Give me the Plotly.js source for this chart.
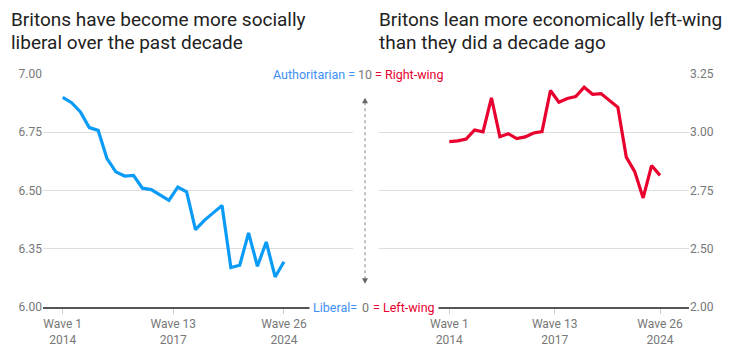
<!DOCTYPE html>
<html>
<head>
<meta charset="utf-8">
<script src="https://cdn.plot.ly/plotly-3.0.1.min.js"></script>
<style>html,body{margin:0;padding:0;background:#fff;}#chart{width:729px;height:349px;}</style>
</head>
<body>
<div id="chart"></div>
<script>
// Data
const waves = [1,2,3,4,5,6,7,8,9,10,11,12,13,14,15,16,17,18,19,20,21,22,23,24,25,26];
const socialValues = [6.90,6.877,6.837,6.77,6.758,6.637,6.58,6.562,6.565,6.51,6.504,6.479,6.458,6.515,6.494,6.332,6.372,6.404,6.436,6.169,6.179,6.318,6.175,6.279,6.129,6.194];
const economicValues = [2.96,2.963,2.971,3.010,3.002,3.148,2.981,2.994,2.973,2.980,2.997,3.003,3.179,3.129,3.145,3.153,3.193,3.163,3.166,3.136,3.107,2.893,2.831,2.718,2.857,2.815];
const xTickVals = [1,13.5,26];
const xTickText = ["Wave 1<br>2014","Wave 13<br>2017","Wave 26<br>2024"];
const leftTickVals = [6,6.25,6.5,6.75,7];
const leftTickText = ["6.00","6.35","6.50","6.75","7.00"];
const rightTickVals = [2.25,2.5,2.75,3,3.25];
const rightTickText = ["2.00","2.50","2.75","3.00","3.25"];

const BLUE = "#0a9bf7";
const RED = "#e8002e";
const LBLUE = "#3d8ff5";
const GREY = "#777";
const FONT = "Roboto, 'Liberation Sans', sans-serif";
const TSIZE = 19;

const traces = [
  {x: waves, y: socialValues, xaxis: "x", yaxis: "y", type: "scatter", mode: "lines",
   line: {color: BLUE, width: 3.2}, hoverinfo: "skip"},
  {x: waves, y: economicValues, xaxis: "x2", yaxis: "y2", type: "scatter", mode: "lines",
   line: {color: RED, width: 3.2}, hoverinfo: "skip"}
];

const xBase = {
  tickmode: "array", tickvals: xTickVals, ticktext: xTickText,
  ticks: "outside", ticklen: 5, tickcolor: "#ccc", tickwidth: 1,
  showline: true, linecolor: "#555", linewidth: 1.5,
  showgrid: false, zeroline: false,
  tickfont: {family: FONT, size: 12, color: GREY}
};
const yBase = {
  tickmode: "array", showgrid: true, gridcolor: "#dedede", gridwidth: 1,
  zeroline: false, showline: false, ticks: "",
  tickfont: {family: FONT, size: 12, color: GREY}
};

const px = v => (v - 43) / 646;
const py = v => (306.7 - v) / 233;
const MX = px(365);

const layout = {
  width: 729, height: 349,
  margin: {l: 43, r: 40, t: 73.7, b: 42.3},
  paper_bgcolor: "#fff", plot_bgcolor: "#fff",
  showlegend: false,
  font: {family: FONT},
  xaxis: Object.assign({}, xBase, {domain: [0, px(353)], range: [-1.23, 33.8], anchor: "y"}),
  xaxis2: Object.assign({}, xBase, {domain: [px(379), 1], range: [-7.34, 29.44], anchor: "y2"}),
  yaxis: Object.assign({}, yBase, {domain: [0, 1], range: [6, 7], tickvals: leftTickVals, ticktext: leftTickText, anchor: "x", side: "left"}),
  yaxis2: Object.assign({}, yBase, {domain: [0, 1], range: [2.25, 3.25], tickvals: rightTickVals, ticktext: rightTickText, anchor: "x2", side: "right"}),
  shapes: [
    {type: "line", xref: "paper", yref: "paper", x0: MX, x1: MX, y0: py(102), y1: py(279),
     line: {color: "#999", width: 1.2, dash: "dot"}},
    {type: "path", xref: "paper", yref: "paper",
     path: `M ${px(362)} ${py(103)} L ${px(368)} ${py(103)} L ${px(365)} ${py(97.5)} Z`,
     fillcolor: "#666", line: {width: 0}},
    {type: "path", xref: "paper", yref: "paper",
     path: `M ${px(362)} ${py(278)} L ${px(368)} ${py(278)} L ${px(365)} ${py(283.5)} Z`,
     fillcolor: "#666", line: {width: 0}}
  ],
  annotations: [
    // titles
    {xref: "paper", yref: "paper", x: px(9), y: py(19), xanchor: "left", yanchor: "middle", showarrow: false,
     text: "Britons have become more socially", font: {family: FONT, size: TSIZE, color: "#222"}},
    {xref: "paper", yref: "paper", x: px(9), y: py(42), xanchor: "left", yanchor: "middle", showarrow: false,
     text: "liberal over the past decade", font: {family: FONT, size: TSIZE, color: "#222"}},
    {xref: "paper", yref: "paper", x: px(377), y: py(19), xanchor: "left", yanchor: "middle", showarrow: false,
     text: "Britons lean more economically left-wing", font: {family: FONT, size: TSIZE, color: "#222"}},
    {xref: "paper", yref: "paper", x: px(377), y: py(42), xanchor: "left", yanchor: "middle", showarrow: false,
     text: "than they did a decade ago", font: {family: FONT, size: TSIZE, color: "#222"}},
    // top label
    {xref: "paper", yref: "paper", x: MX, y: py(73.7), xanchor: "right", yanchor: "middle", xshift: -7, showarrow: false,
     bgcolor: "#fff", borderpad: 2,
     text: "Authoritarian =", font: {family: FONT, size: 12.5, color: LBLUE}},
    {xref: "paper", yref: "paper", x: MX, y: py(73.7), xanchor: "center", yanchor: "middle", showarrow: false,
     bgcolor: "#fff", borderpad: 0,
     text: "10", font: {family: FONT, size: 12.5, color: GREY}},
    {xref: "paper", yref: "paper", x: MX, y: py(73.7), xanchor: "left", yanchor: "middle", xshift: 7, showarrow: false,
     bgcolor: "#fff", borderpad: 2,
     text: "= Right-wing", font: {family: FONT, size: 12.5, color: RED}},
    // bottom label
    {xref: "paper", yref: "paper", x: MX, y: py(306.7), xanchor: "right", yanchor: "middle", xshift: -4, showarrow: false,
     bgcolor: "#fff", borderpad: 3,
     text: "Liberal=", font: {family: FONT, size: 12.5, color: LBLUE}},
    {xref: "paper", yref: "paper", x: MX, y: py(306.7), xanchor: "center", yanchor: "middle", showarrow: false,
     bgcolor: "#fff", borderpad: 0,
     text: "0", font: {family: FONT, size: 12.5, color: GREY}},
    {xref: "paper", yref: "paper", x: MX, y: py(306.7), xanchor: "left", yanchor: "middle", xshift: 4, showarrow: false,
     bgcolor: "#fff", borderpad: 3,
     text: "= Left-wing", font: {family: FONT, size: 12.5, color: RED}}
  ]
};

Plotly.newPlot("chart", traces, layout, {staticPlot: true, displayModeBar: false});
</script>
</body>
</html>
